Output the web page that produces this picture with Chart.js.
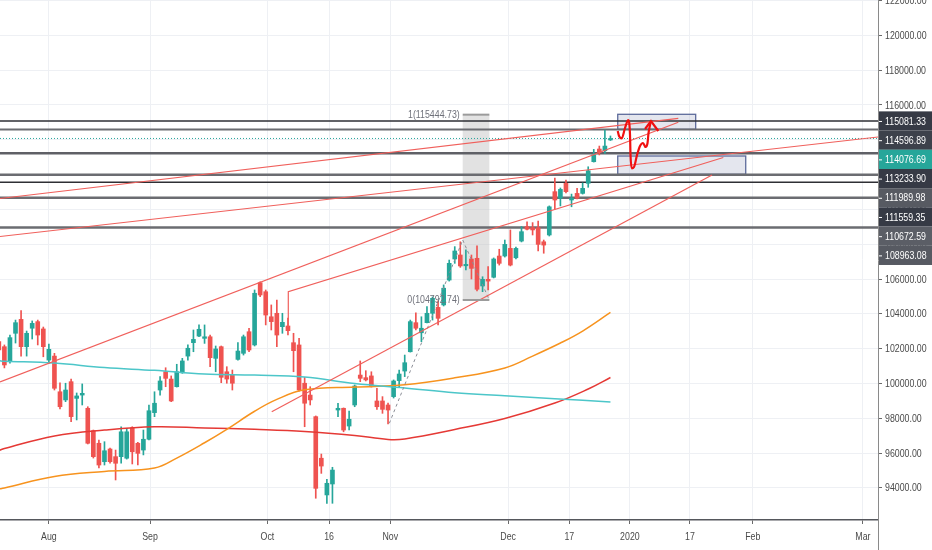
<!DOCTYPE html>
<html><head><meta charset="utf-8">
<script src="https://cdn.jsdelivr.net/npm/chart.js@4.4.1/dist/chart.umd.min.js"></script>
<style>html,body{margin:0;padding:0;background:#fff;overflow:hidden}#wrap{width:932px;height:550px}</style>
</head><body><div id="wrap"><canvas id="c" width="932" height="550"></canvas></div>
<script>
// ---- candles (bar index -1 .. 109) ----
const firstBar = -1;
const opens = [102400,102110,101250,102880,103680,102110,103170,103550,103130,101340,101570,99520,99050,100100,99140,99330,98570,97280,96560,95500,96230,95790,95790,95700,97450,96560,96170,96790,98320,99620,100670,100250,99810,100610,101570,102340,102720,102590,102680,101440,102110,100670,100480,101380,101730,102970,102210,105790,105270,103830,104030,103260,103300,102340,102210,100010,99330,98090,95700,93590,94220,98470,98570,97550,98760,100480,100330,100430,98990,98990,98760,99240,100160,100710,101820,103490,102910,103490,104030,104370,104510,105940,107150,107380,106760,107150,107190,105600,105980,106100,107320,107320,107760,107220,108180,109010,108950,108950,108140,108530,111020,110640,111500,110540,110920,110920,111500,112740,113470,113370,113990];
const highs = [102610,102210,102780,103640,104180,103010,103590,103640,103240,102260,101730,100040,100010,100250,99450,99970,98660,97320,96750,96650,96290,96170,97510,97420,97510,96610,97320,98760,99520,100390,100900,100430,101100,101440,102210,103070,103360,103360,102780,102150,102150,100960,100770,102340,102780,103170,105370,105840,105370,104510,104790,104030,103760,102880,102590,100350,99810,98130,95940,94490,95180,98860,98590,98410,99910,101290,100730,100670,99720,99240,98870,100200,100770,101630,103640,104060,103830,104410,104970,104750,105660,107090,107860,108140,107670,107380,107900,106130,106710,107210,107710,108240,108820,107840,109010,109290,109240,109330,108240,110200,111800,111230,111690,110880,111210,111520,112450,113450,113640,114560,114220];
const lows = [101800,100890,101170,102320,101570,101570,102550,102210,101530,101170,99620,98530,98950,97800,97900,98760,96520,95710,95140,95310,95410,94450,95410,95650,95370,95310,95890,96750,98090,99330,99810,98950,99790,100580,101340,101820,102680,102300,100960,100670,100040,100010,99620,101340,101630,101820,102150,104980,103360,103070,102110,102880,102780,100670,99560,97510,98760,93400,94830,93110,93110,98090,97220,97320,98660,100100,100140,99790,98510,98280,97670,99160,99810,100390,101800,103070,102400,103470,103640,103360,104450,105880,106900,106670,106520,106000,105310,105270,105370,106060,106800,107260,106750,107150,108130,108820,108530,107610,107480,108470,110010,110200,110940,110150,110600,110880,111270,112720,113130,113220,113960];
const closes = [101920,101060,102630,103490,102110,102880,103450,102780,102110,101960,99720,98660,99620,98090,99280,99430,96560,95790,95310,96130,95500,95410,97220,97220,96070,95980,96790,98430,98860,100140,100290,98990,100670,101290,102020,102530,103110,102680,101480,101980,100350,100250,100010,101860,102680,101920,105180,105080,103930,103550,102780,103510,103030,101880,99620,98860,99050,93970,95250,94260,95020,98570,97320,97940,99850,100290,100200,99810,98660,98510,98470,100140,100540,101190,103550,103170,103170,104030,104890,103740,105470,106900,107610,106750,106840,106610,105410,105980,105880,107150,106900,107990,106800,107760,108720,108860,108820,107990,107950,110150,110540,111150,111020,110640,110640,111210,112220,113130,113280,113640,114076.69];

// ---- moving averages (bar index, value) ----
const maCyanIdx = [-1,0,9,18,27,36,45,54,63,72,81,90,99,109];
const maCyan    = [101300,101280,101170,100910,100750,100540,100480,100370,99990,99740,99460,99290,99120,98930];
const maOrangeIdx = [-1,0,9,18,27,31,36,40,45,49,54,63,72,81,90,95,100,104,109];
const maOrange    = [93930,93990,94650,94940,95140,95710,96590,97360,98400,99080,99630,99790,99920,100320,100890,101570,102320,103010,104080];
const maRedIdx = [-1,0,9,18,27,36,45,54,63,69,72,81,90,99,105,109];
const maRed    = [96140,96260,96980,97320,97510,97440,97360,97240,97010,96780,96810,97350,97980,98870,99680,100340];

// ---- horizontal levels ----
const levelValues = [115081.33,114596.89,114076.69,113233.90,111989.98,111559.35,110672.59,108963.08];
const levelLabels = ['115081.33','114596.89','114076.69','113233.90','111989.98','111559.35','110672.59','108963.08'];

// ---- drawings (bar index, price) ----
const trendLines = [
  [[-0.79,110626],[121.2,115235]],
  [[-0.79,108442],[157.12,114161]],
  [[-0.79,100080],[121.2,115005]],
  [[51.06,103260],[51.06,105270],[129.3,112983]],
  [[48.08,98374],[127.27,111977]]
];
const dashedLines = [
  [[69.23,97707],[82.43,108241]],
  [[82.43,108241],[87.22,104793]]
];
const fibRange = [82.43,87.22];
const fibLevels = [115444.73,104792.74];
const fibLabels = ['1(115444.73)','0(104792.74)'];
const boxes = [[110.31,124.33,115465,114603],[110.31,133.33,113069,112017]];
const arrowPath = [[110.31,114505],[110.54,114218],[111.03,114086],[111.62,114678],[112.21,115138],[112.52,114276],[112.61,113126],[112.82,112362],[113.24,112437],[113.78,113126],[114.32,113643],[114.86,113816],[115.31,113586],[115.67,113816],[115.85,114390],[116.29,115080]];
const arrowHead = [[115.22,114620],[116.29,115080],[117.61,114505]];

// ---- axes ----
const xMin = -0.79, xMax = 157.12, yMin = 92150, yMax = 122034;
const xTickPos = [8,26.2,47.3,58.4,69.4,90.6,101.6,112.5,123.3,134.6,154.4];
const xTickLabels = ['Aug','Sep','Oct','16','Nov','Dec','17','2020','17','Feb','Mar'];
const yTicks = [94000,96000,98000,100000,102000,104000,106000,108000,110000,112000,114000,116000,118000,120000,122000];

const FONT = "'Liberation Sans',Arial,sans-serif";
const SQUEEZE = 0.8;
const GREEN = '#26a69a', RED = '#ef5350';
const isUp = k => closes[k] >= opens[k];

const pts = arr => arr.map(p => ({x:p[0], y:p[1]}));
const series = (idx, vals) => idx.map((x,k) => ({x, y:vals[k]}));

function narrowText(ctx, text, x, y, align, color, size){
  ctx.save();
  ctx.translate(x, y);
  ctx.scale(SQUEEZE, 1);
  ctx.font = size + 'px ' + FONT;
  ctx.fillStyle = color;
  ctx.textAlign = align;
  ctx.textBaseline = 'middle';
  ctx.fillText(text, 0, 0);
  ctx.restore();
}

const datasets = [];
const levelStyles = [
  ['#2e2f34',1.5,[]],['#6b6c71',2,[]],[GREEN,1,[1,2]],['#5f6066',2.5,[]],
  ['#6b6c71',2.5,[]],['#2e2f34',1.5,[]],['#6b6c71',2.5,[]],['#6b6c71',2.5,[]]
];
levelValues.forEach((v,k) => {
  const s = levelStyles[k];
  datasets.push({type:'line', data:[{x:xMin,y:v},{x:xMax,y:v}], borderColor:s[0], borderWidth:s[1], borderDash:s[2], pointRadius:0, order:10});
});
datasets.push({type:'bar', data:opens.map((o,k)=>({x:firstBar+k, y:[lows[k], highs[k]]})),
  backgroundColor:c=>isUp(c.dataIndex)?GREEN:RED, barThickness:1, grouped:false, order:7});
datasets.push({type:'bar', data:opens.map((o,k)=>({x:firstBar+k, y:[o, closes[k]]})),
  backgroundColor:c=>isUp(c.dataIndex)?GREEN:RED, barThickness:4, minBarLength:1, grouped:false, order:6});
datasets.push({type:'line', data:series(maCyanIdx,maCyan), borderColor:'#4cc6c9', borderWidth:1.5, tension:0.4, pointRadius:0, order:5});
datasets.push({type:'line', data:series(maOrangeIdx,maOrange), borderColor:'#f7931e', borderWidth:1.5, tension:0.4, pointRadius:0, order:5});
datasets.push({type:'line', data:series(maRedIdx,maRed), borderColor:'#e53935', borderWidth:1.5, tension:0.4, pointRadius:0, order:5});
trendLines.forEach(l => datasets.push({type:'line', data:pts(l), borderColor:'#f0605c', borderWidth:1.2, pointRadius:0, order:3}));
dashedLines.forEach(l => datasets.push({type:'line', data:pts(l), borderColor:'#8a8d96', borderWidth:1, borderDash:[3,3], pointRadius:0, order:3}));
datasets.push({type:'line', data:pts(arrowPath), borderColor:'#f01010', borderWidth:2.2, cubicInterpolationMode:'monotone', pointRadius:0, order:1});
datasets.push({type:'line', data:pts(arrowHead), borderColor:'#f01010', borderWidth:2.2, pointRadius:0, order:1});

const overlay = {
  id:'overlay',
  beforeDatasetsDraw(chart){
    const {ctx, chartArea:a, scales:{x,y}} = chart;
    ctx.save();
    ctx.beginPath(); ctx.rect(a.left,a.top,a.right-a.left,a.bottom-a.top); ctx.clip();
    const fx0=x.getPixelForValue(fibRange[0]), fx1=x.getPixelForValue(fibRange[1]);
    const fy0=y.getPixelForValue(fibLevels[0]), fy1=y.getPixelForValue(fibLevels[1]);
    ctx.fillStyle='rgba(190,190,190,0.45)';
    ctx.fillRect(fx0,fy0,fx1-fx0,fy1-fy0);
    boxes.forEach(b=>{
      const x0=x.getPixelForValue(b[0]), x1=x.getPixelForValue(b[1]);
      const y0=y.getPixelForValue(b[2]), y1=y.getPixelForValue(b[3]);
      ctx.fillStyle='rgba(178,184,205,0.35)';
      ctx.fillRect(x0,y0,x1-x0,y1-y0);
      ctx.strokeStyle='#5d6b9b'; ctx.lineWidth=1.3;
      ctx.strokeRect(x0,y0,x1-x0,y1-y0);
    });
    ctx.restore();
  },
  afterDatasetsDraw(chart){
    const {ctx, scales:{x,y}} = chart;
    const fx0=x.getPixelForValue(fibRange[0]), fx1=x.getPixelForValue(fibRange[1]);
    ctx.save();
    fibLevels.forEach((v,k)=>{
      const py=y.getPixelForValue(v);
      ctx.strokeStyle='#9b9b9b'; ctx.lineWidth=2;
      ctx.beginPath(); ctx.moveTo(fx0,py); ctx.lineTo(fx1,py); ctx.stroke();
      narrowText(ctx, fibLabels[k], fx0-3, py, 'right', '#6f717a', 11);
    });
    ctx.restore();
  },
  afterDraw(chart){
    const {ctx, chartArea:a, scales:{x,y}} = chart;
    ctx.save();
    yTicks.forEach(v=>{
      narrowText(ctx, v.toFixed(2), a.right+7, y.getPixelForValue(v)+0.5, 'left', '#4a4a4a', 11);
    });
    xTickPos.forEach((v,k)=>{
      narrowText(ctx, xTickLabels[k], x.getPixelForValue(v), a.bottom+17, 'center', '#4a4a4a', 11);
    });
    ctx.strokeStyle='#8a8a8a'; ctx.lineWidth=1;
    ctx.beginPath(); ctx.moveTo(a.right+0.5,a.bottom); ctx.lineTo(a.right+0.5,chart.height); ctx.stroke();
    const bg = ['#363a45','#3d414b',GREEN,'#363a45','#575a62','#363a45','#5b5e66','#575a62'];
    let prev = -1e9;
    const h = 19.2;
    levelValues.forEach((v,k)=>{
      const c = Math.max(y.getPixelForValue(v), prev + h);
      prev = c;
      ctx.fillStyle = bg[k];
      ctx.fillRect(a.right+1, c-h/2, chart.width-a.right-1, h);
      ctx.strokeStyle='#ffffff'; ctx.lineWidth=1;
      ctx.beginPath(); ctx.moveTo(a.right+1,c+0.5); ctx.lineTo(a.right+4,c+0.5); ctx.stroke();
      narrowText(ctx, levelLabels[k], a.right+7, c+0.5, 'left', '#ffffff', 11);
    });
    ctx.restore();
  }
};

new Chart(document.getElementById('c'), {
  type:'bar',
  data:{datasets},
  plugins:[overlay],
  options:{
    responsive:false, animation:false,
    layout:{padding:0},
    plugins:{legend:{display:false}, tooltip:{enabled:false}},
    elements:{line:{fill:false}, point:{radius:0}},
    scales:{
      x:{
        type:'linear', min:xMin, max:xMax, offset:false, position:'bottom',
        grid:{offset:false, color:'#eef0f4', tickColor:'#6a6a6a', tickLength:4, drawTicks:true},
        border:{color:'#55575c', width:1.5},
        afterBuildTicks:s=>{ s.ticks = xTickPos.map(v=>({value:v})); },
        afterFit:s=>{ s.height=30; s.paddingLeft=0; s.paddingRight=0; },
        ticks:{display:false, autoSkip:false, maxRotation:0}
      },
      y:{
        type:'linear', position:'right', min:yMin, max:yMax,
        grid:{offset:false, color:'#eef0f4', tickColor:'#6a6a6a', tickLength:4, drawTicks:true},
        border:{color:'#8a8a8a', width:1},
        afterBuildTicks:s=>{ s.ticks = yTicks.map(v=>({value:v})); },
        afterFit:s=>{ s.width=54; s.paddingTop=0; s.paddingBottom=0; },
        ticks:{display:false}
      }
    }
  }
});
</script>
</body></html>
